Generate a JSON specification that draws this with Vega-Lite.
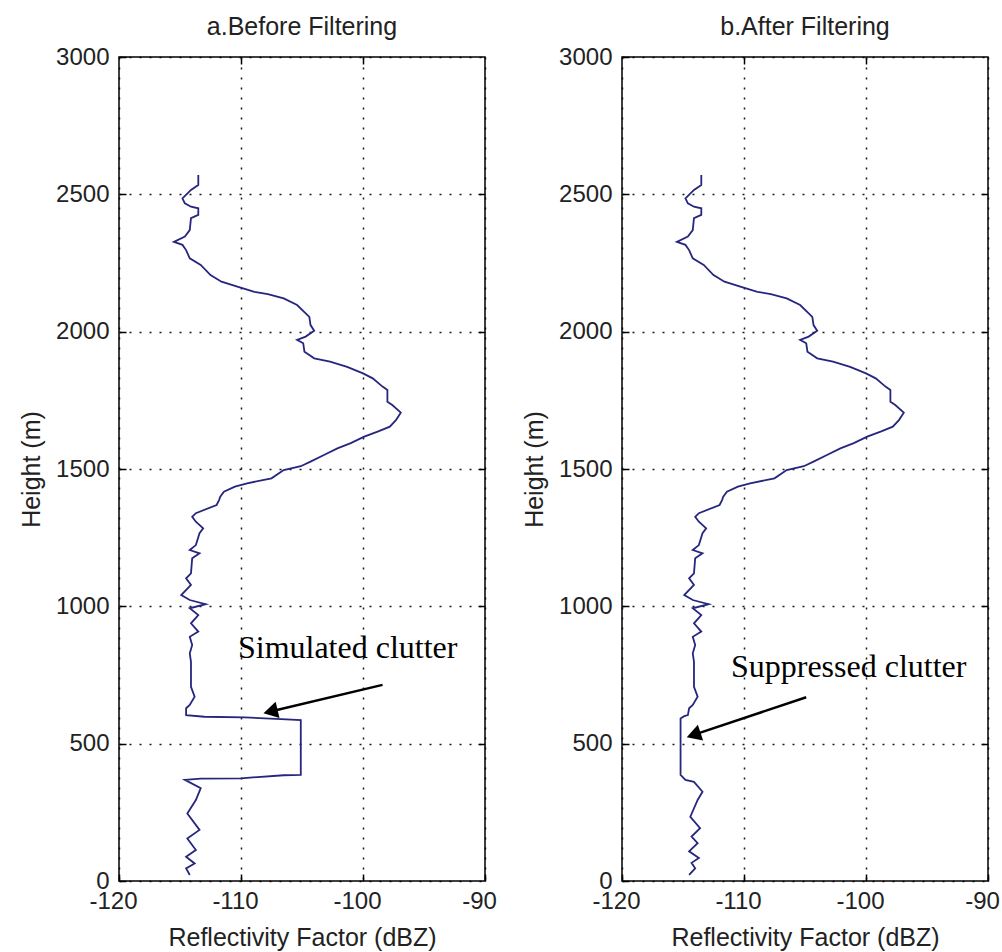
{
  "$schema": "https://vega.github.io/schema/vega-lite/v6.json",
  "background": "white",
  "padding": {"left": 18, "top": 14, "right": 0, "bottom": 0},
  "bounds": "flush",
  "spacing": 137,
  "config": {
    "view": {"stroke": "#000", "strokeWidth": 1.5},
    "font": "Liberation Sans",
    "axis": {
      "labelFont": "Liberation Sans", "labelFontSize": 24, "labelColor": "#222",
      "titleFont": "Liberation Sans", "titleFontSize": 25, "titleFontWeight": "normal", "titleColor": "#222",
      "tickColor": "#000", "tickWidth": 1.5, "tickSize": -7,
      "domain": false,
      "gridColor": "#000", "gridDash": [2, 8], "gridWidth": 1.5, "gridOpacity": 0.9,
      "labelFlush": false, "labelOverlap": false, "labelBound": false,
      "labelExpr": "'' + datum.value"
    }
  },
  "datasets": {
    "prof": [
      {"p":"a","h":2570,"v":-113.5},{"p":"a","h":2534,"v":-113.5},{"p":"a","h":2516,"v":-114.1},{"p":"a","h":2485,"v":-114.8},{"p":"a","h":2467,"v":-114.6},{"p":"a","h":2455,"v":-114.1},{"p":"a","h":2449,"v":-113.5},{"p":"a","h":2425,"v":-113.5},{"p":"a","h":2413,"v":-114.1},{"p":"a","h":2370,"v":-114.2},{"p":"a","h":2346,"v":-114.6},{"p":"a","h":2327,"v":-115.5},{"p":"a","h":2316,"v":-114.8},{"p":"a","h":2297,"v":-114.5},{"p":"a","h":2267,"v":-114.2},{"p":"a","h":2243,"v":-113.3},{"p":"a","h":2206,"v":-112.5},{"p":"a","h":2182,"v":-111.6},{"p":"a","h":2164,"v":-110.3},{"p":"a","h":2145,"v":-108.9},{"p":"a","h":2137,"v":-107.8},{"p":"a","h":2121,"v":-106.5},{"p":"a","h":2097,"v":-105.4},{"p":"a","h":2054,"v":-104.4},{"p":"a","h":2024,"v":-104.3},{"p":"a","h":2003,"v":-104.0},{"p":"a","h":1982,"v":-104.7},{"p":"a","h":1970,"v":-105.4},{"p":"a","h":1958,"v":-104.9},{"p":"a","h":1927,"v":-104.8},{"p":"a","h":1903,"v":-104.0},{"p":"a","h":1891,"v":-102.7},{"p":"a","h":1872,"v":-101.3},{"p":"a","h":1848,"v":-100.0},{"p":"a","h":1830,"v":-99.2},{"p":"a","h":1800,"v":-98.4},{"p":"a","h":1788,"v":-98.0},{"p":"a","h":1745,"v":-98.0},{"p":"a","h":1733,"v":-97.6},{"p":"a","h":1705,"v":-96.9},{"p":"a","h":1678,"v":-97.3},{"p":"a","h":1654,"v":-97.8},{"p":"a","h":1636,"v":-98.8},{"p":"a","h":1618,"v":-99.9},{"p":"a","h":1594,"v":-101.0},{"p":"a","h":1575,"v":-102.1},{"p":"a","h":1551,"v":-103.2},{"p":"a","h":1527,"v":-104.3},{"p":"a","h":1510,"v":-105.1},{"p":"a","h":1496,"v":-106.5},{"p":"a","h":1466,"v":-107.5},{"p":"a","h":1448,"v":-109.5},{"p":"a","h":1436,"v":-110.5},{"p":"a","h":1417,"v":-111.4},{"p":"a","h":1399,"v":-111.7},{"p":"a","h":1387,"v":-111.8},{"p":"a","h":1369,"v":-112.0},{"p":"a","h":1339,"v":-113.7},{"p":"a","h":1326,"v":-114.0},{"p":"a","h":1308,"v":-113.7},{"p":"a","h":1284,"v":-113.1},{"p":"a","h":1266,"v":-113.4},{"p":"a","h":1223,"v":-113.7},{"p":"a","h":1205,"v":-114.2},{"p":"a","h":1193,"v":-113.4},{"p":"a","h":1175,"v":-114.0},{"p":"a","h":1120,"v":-114.1},{"p":"a","h":1102,"v":-114.5},{"p":"a","h":1078,"v":-114.1},{"p":"a","h":1041,"v":-114.9},{"p":"a","h":1023,"v":-114.2},{"p":"a","h":1008,"v":-112.9},{"p":"a","h":993,"v":-114.2},{"p":"a","h":968,"v":-113.5},{"p":"a","h":938,"v":-114.1},{"p":"a","h":908,"v":-113.5},{"p":"a","h":889,"v":-114.2},{"p":"a","h":859,"v":-114.0},{"p":"a","h":829,"v":-114.2},{"p":"a","h":798,"v":-114.1},{"p":"a","h":707,"v":-114.1},{"p":"a","h":671,"v":-113.8},{"p":"a","h":641,"v":-114.2},{"p":"a","h":629,"v":-114.5},{"p":"a","h":604,"v":-114.5},
      {"p":"a","h":598,"v":-113.0},{"p":"a","h":596,"v":-109.7},{"p":"a","h":589,"v":-106.7},{"p":"a","h":586,"v":-105.1},{"p":"a","h":386,"v":-105.1},{"p":"a","h":385,"v":-106.5},{"p":"a","h":374,"v":-110.0},{"p":"a","h":373,"v":-113.3},{"p":"a","h":368,"v":-114.6},
      {"p":"a","h":338,"v":-113.3},{"p":"a","h":295,"v":-113.7},{"p":"a","h":246,"v":-114.4},{"p":"a","h":186,"v":-113.4},{"p":"a","h":155,"v":-114.4},{"p":"a","h":113,"v":-113.7},{"p":"a","h":88,"v":-114.5},{"p":"a","h":64,"v":-113.8},{"p":"a","h":46,"v":-114.5},{"p":"a","h":22,"v":-114.2},

      {"p":"b","h":2570,"v":-113.5},{"p":"b","h":2534,"v":-113.5},{"p":"b","h":2516,"v":-114.1},{"p":"b","h":2485,"v":-114.8},{"p":"b","h":2467,"v":-114.6},{"p":"b","h":2455,"v":-114.1},{"p":"b","h":2449,"v":-113.5},{"p":"b","h":2425,"v":-113.5},{"p":"b","h":2413,"v":-114.1},{"p":"b","h":2370,"v":-114.2},{"p":"b","h":2346,"v":-114.6},{"p":"b","h":2327,"v":-115.5},{"p":"b","h":2316,"v":-114.8},{"p":"b","h":2297,"v":-114.5},{"p":"b","h":2267,"v":-114.2},{"p":"b","h":2243,"v":-113.3},{"p":"b","h":2206,"v":-112.5},{"p":"b","h":2182,"v":-111.6},{"p":"b","h":2164,"v":-110.3},{"p":"b","h":2145,"v":-108.9},{"p":"b","h":2137,"v":-107.8},{"p":"b","h":2121,"v":-106.5},{"p":"b","h":2097,"v":-105.4},{"p":"b","h":2054,"v":-104.4},{"p":"b","h":2024,"v":-104.3},{"p":"b","h":2003,"v":-104.0},{"p":"b","h":1982,"v":-104.7},{"p":"b","h":1970,"v":-105.4},{"p":"b","h":1958,"v":-104.9},{"p":"b","h":1927,"v":-104.8},{"p":"b","h":1903,"v":-104.0},{"p":"b","h":1891,"v":-102.7},{"p":"b","h":1872,"v":-101.3},{"p":"b","h":1848,"v":-100.0},{"p":"b","h":1830,"v":-99.2},{"p":"b","h":1800,"v":-98.4},{"p":"b","h":1788,"v":-98.0},{"p":"b","h":1745,"v":-98.0},{"p":"b","h":1733,"v":-97.6},{"p":"b","h":1705,"v":-96.9},{"p":"b","h":1678,"v":-97.3},{"p":"b","h":1654,"v":-97.8},{"p":"b","h":1636,"v":-98.8},{"p":"b","h":1618,"v":-99.9},{"p":"b","h":1594,"v":-101.0},{"p":"b","h":1575,"v":-102.1},{"p":"b","h":1551,"v":-103.2},{"p":"b","h":1527,"v":-104.3},{"p":"b","h":1510,"v":-105.1},{"p":"b","h":1496,"v":-106.5},{"p":"b","h":1466,"v":-107.5},{"p":"b","h":1448,"v":-109.5},{"p":"b","h":1436,"v":-110.5},{"p":"b","h":1417,"v":-111.4},{"p":"b","h":1399,"v":-111.7},{"p":"b","h":1387,"v":-111.8},{"p":"b","h":1369,"v":-112.0},{"p":"b","h":1339,"v":-113.7},{"p":"b","h":1326,"v":-114.0},{"p":"b","h":1308,"v":-113.7},{"p":"b","h":1284,"v":-113.1},{"p":"b","h":1266,"v":-113.4},{"p":"b","h":1223,"v":-113.7},{"p":"b","h":1205,"v":-114.2},{"p":"b","h":1193,"v":-113.4},{"p":"b","h":1175,"v":-114.0},{"p":"b","h":1120,"v":-114.1},{"p":"b","h":1102,"v":-114.5},{"p":"b","h":1078,"v":-114.1},{"p":"b","h":1041,"v":-114.9},{"p":"b","h":1023,"v":-114.2},{"p":"b","h":1008,"v":-112.9},{"p":"b","h":993,"v":-114.2},{"p":"b","h":968,"v":-113.5},{"p":"b","h":938,"v":-114.1},{"p":"b","h":908,"v":-113.5},{"p":"b","h":889,"v":-114.2},{"p":"b","h":859,"v":-114.0},{"p":"b","h":829,"v":-114.2},{"p":"b","h":798,"v":-114.1},{"p":"b","h":707,"v":-114.1},{"p":"b","h":671,"v":-113.8},{"p":"b","h":641,"v":-114.2},{"p":"b","h":629,"v":-114.5},{"p":"b","h":604,"v":-114.6},
      {"p":"b","h":600,"v":-114.9},{"p":"b","h":592,"v":-115.2},{"p":"b","h":386,"v":-115.2},{"p":"b","h":368,"v":-114.8},{"p":"b","h":361,"v":-114.1},
      {"p":"b","h":325,"v":-113.4},{"p":"b","h":295,"v":-113.8},{"p":"b","h":234,"v":-114.4},{"p":"b","h":192,"v":-113.6},{"p":"b","h":162,"v":-114.3},{"p":"b","h":138,"v":-113.8},{"p":"b","h":108,"v":-114.5},{"p":"b","h":84,"v":-113.7},{"p":"b","h":66,"v":-114.3},{"p":"b","h":46,"v":-114.0},{"p":"b","h":22,"v":-114.5}
    ],
    "ann": [
      {"p":"a","label":"Simulated clutter","tx":-110.25,"ty":812,"x1":-98.4,"y1":714,"x2":-107.58,"y2":617},
      {"p":"b","label":"Suppressed clutter","tx":-111.07,"ty":743,"x1":-104.9,"y1":669,"x2":-114.13,"y2":532}
    ]
  },
  "hconcat": [
    {
      "width": 366, "height": 824,
      "title": {"text": "a.Before Filtering", "fontSize": 25, "fontWeight": "normal", "font": "Liberation Sans", "color": "#222", "frame": "group", "baseline": "alphabetic", "offset": -15},
      "resolve": {"axis": {"x": "independent", "y": "independent"}},
      "layer": [
        {
          "data": {"name": "prof"},
          "transform": [{"filter": "datum.p == 'a'"}],
          "mark": {"type": "line", "color": "#26267f", "strokeWidth": 1.8, "clip": true},
          "encoding": {
            "x": {"field": "v", "type": "quantitative", "scale": {"domain": [-120, -90], "nice": false, "zero": false},
                  "axis": {"orient": "bottom", "values": [-120, -110, -100, -90], "grid": true, "labelPadding": 15, "labelOffset": -6, "titlePadding": 12}, "title": "Reflectivity Factor (dBZ)"},
            "y": {"field": "h", "type": "quantitative", "scale": {"domain": [0, 3000], "nice": false, "zero": false},
                  "axis": {"orient": "left", "values": [0, 500, 1000, 1500, 2000, 2500, 3000], "grid": true, "labelPadding": 17, "titlePadding": 11}, "title": "Height (m)"},
            "order": {"field": "h", "type": "quantitative", "sort": "descending"}
          }
        },
        {
          "data": {"name": "ann"},
          "transform": [{"filter": "datum.p == 'a'"}],
          "mark": {"type": "rule", "color": "#000", "strokeWidth": 2.5},
          "encoding": {
            "x": {"field": "x1", "type": "quantitative", "axis": {"orient": "top", "values": [-110, -100], "labels": false, "grid": false, "title": null}},
            "y": {"field": "y1", "type": "quantitative", "axis": {"orient": "right", "values": [500, 1000, 1500, 2000, 2500], "labels": false, "grid": false, "title": null}},
            "x2": {"field": "x2"},
            "y2": {"field": "y2"}
          }
        },
        {
          "data": {"name": "ann"},
          "transform": [{"filter": "datum.p == 'a'"}],
          "mark": {"type": "point", "shape": "triangle-up", "filled": true, "color": "#000", "opacity": 1, "size": 280, "angle": 256.7},
          "encoding": {
            "x": {"field": "x2", "type": "quantitative", "axis": null},
            "y": {"field": "y2", "type": "quantitative", "axis": null}
          }
        },
        {
          "data": {"name": "ann"},
          "transform": [{"filter": "datum.p == 'a'"}],
          "mark": {"type": "text", "font": "Liberation Serif", "fontSize": 32, "color": "#000", "align": "left", "baseline": "alphabetic"},
          "encoding": {
            "x": {"field": "tx", "type": "quantitative", "axis": null},
            "y": {"field": "ty", "type": "quantitative", "axis": null},
            "text": {"field": "label"}
          }
        }
      ]
    },
    {
      "width": 366, "height": 824,
      "title": {"text": "b.After Filtering", "fontSize": 25, "fontWeight": "normal", "font": "Liberation Sans", "color": "#222", "frame": "group", "baseline": "alphabetic", "offset": -15},
      "resolve": {"axis": {"x": "independent", "y": "independent"}},
      "layer": [
        {
          "data": {"name": "prof"},
          "transform": [{"filter": "datum.p == 'b'"}],
          "mark": {"type": "line", "color": "#26267f", "strokeWidth": 1.8, "clip": true},
          "encoding": {
            "x": {"field": "v", "type": "quantitative", "scale": {"domain": [-120, -90], "nice": false, "zero": false},
                  "axis": {"orient": "bottom", "values": [-120, -110, -100, -90], "grid": true, "labelPadding": 15, "labelOffset": -6, "titlePadding": 12}, "title": "Reflectivity Factor (dBZ)"},
            "y": {"field": "h", "type": "quantitative", "scale": {"domain": [0, 3000], "nice": false, "zero": false},
                  "axis": {"orient": "left", "values": [0, 500, 1000, 1500, 2000, 2500, 3000], "grid": true, "labelPadding": 17, "titlePadding": 11}, "title": "Height (m)"},
            "order": {"field": "h", "type": "quantitative", "sort": "descending"}
          }
        },
        {
          "data": {"name": "ann"},
          "transform": [{"filter": "datum.p == 'b'"}],
          "mark": {"type": "rule", "color": "#000", "strokeWidth": 2.5},
          "encoding": {
            "x": {"field": "x1", "type": "quantitative", "axis": {"orient": "top", "values": [-110, -100], "labels": false, "grid": false, "title": null}},
            "y": {"field": "y1", "type": "quantitative", "axis": {"orient": "right", "values": [500, 1000, 1500, 2000, 2500], "labels": false, "grid": false, "title": null}},
            "x2": {"field": "x2"},
            "y2": {"field": "y2"}
          }
        },
        {
          "data": {"name": "ann"},
          "transform": [{"filter": "datum.p == 'b'"}],
          "mark": {"type": "point", "shape": "triangle-up", "filled": true, "color": "#000", "opacity": 1, "size": 280, "angle": 251.6},
          "encoding": {
            "x": {"field": "x2", "type": "quantitative", "axis": null},
            "y": {"field": "y2", "type": "quantitative", "axis": null}
          }
        },
        {
          "data": {"name": "ann"},
          "transform": [{"filter": "datum.p == 'b'"}],
          "mark": {"type": "text", "font": "Liberation Serif", "fontSize": 32, "color": "#000", "align": "left", "baseline": "alphabetic"},
          "encoding": {
            "x": {"field": "tx", "type": "quantitative", "axis": null},
            "y": {"field": "ty", "type": "quantitative", "axis": null},
            "text": {"field": "label"}
          }
        }
      ]
    }
  ]
}
